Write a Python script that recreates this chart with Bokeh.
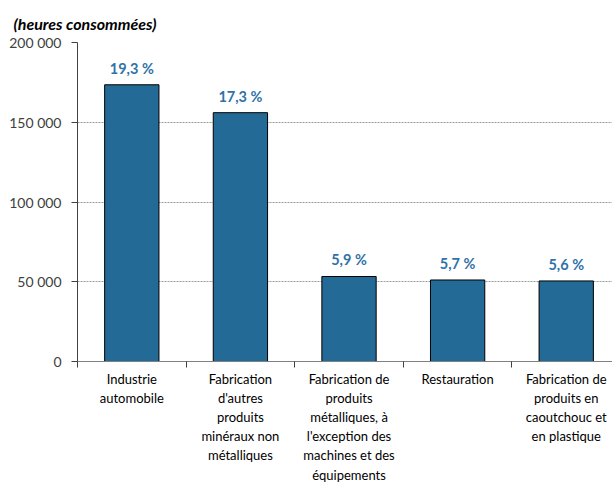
from bokeh.plotting import figure
from bokeh.models import FixedTicker, Range1d, CustomJSTickFormatter, ColumnDataSource
from bokeh.core.properties import value
from bokeh.embed import file_html
from bokeh.resources import INLINE

titre = "(heures consommées)"
categories = [
    "Industrie\nautomobile",
    "Fabrication\nd'autres\nproduits\nminéraux non\nmétalliques",
    "Fabrication de\nproduits\nmétalliques, à\nl'exception des\nmachines et des\néquipements",
    "Restauration",
    "Fabrication de\nproduits en\ncaoutchouc et\nen plastique",
]
heures = [173500, 156000, 53300, 51100, 50500]
parts = [19.3, 17.3, 5.9, 5.7, 5.6]
y_ticks = [0, 50000, 100000, 150000, 200000]

FONT = "Lato"
n = len(categories)
centers = [i + 0.5 for i in range(n)]
labels = [f"{v:.1f}".replace(".", ",") + " %" for v in parts]

src = ColumnDataSource(dict(x=centers, top=heures, lab=labels))

p = figure(width=612, height=485, output_backend="svg", toolbar_location=None,
           x_range=Range1d(0, 4.926), y_range=Range1d(0, 200000),
           min_border_left=77, min_border_right=0, min_border_top=42,
           min_border_bottom=20)
p.outline_line_color = None
p.background_fill_color = "white"

p.title.text = titre
p.title.text_font = FONT
p.title.text_font_style = "bold italic"
p.title.text_font_size = "16px"
p.title.text_line_height = 0.7
p.title.text_color = "#000000"
p.title.align = "left"
p.title.offset = -64
p.title.standoff = 20

p.vbar(x="x", top="top", width=0.5, source=src, fill_color="#236a97",
       line_color="#000000", line_width=1)
p.text(x="x", y="top", text="lab", source=src, text_align="center",
       text_baseline="bottom", y_offset=-8, text_font=value(FONT),
       text_font_style="bold", text_font_size="14.5px", text_color="#2f72a8")

# y axis
p.yaxis.ticker = FixedTicker(ticks=y_ticks)
p.yaxis.formatter = CustomJSTickFormatter(
    code="return tick.toString().replace(/\\B(?=(\\d{3})+(?!\\d))/g, ' ');")
p.yaxis.major_label_text_font = FONT
p.yaxis.major_label_text_font_size = "14px"
p.yaxis.major_label_text_color = "#404040"
p.yaxis.axis_line_color = "#404040"
p.yaxis.major_tick_line_color = "#404040"
p.yaxis.major_tick_out = 6
p.yaxis.major_tick_in = 0
p.yaxis.minor_tick_line_color = None
p.yaxis.major_label_standoff = 10

# x axis
p.xaxis.ticker = FixedTicker(ticks=centers, minor_ticks=list(range(n + 1)))
p.xaxis.major_label_overrides = {c: lab for c, lab in zip(centers, categories)}
p.xaxis.major_tick_line_color = None
p.xaxis.major_tick_out = 0
p.xaxis.major_tick_in = 0
p.xaxis.minor_tick_line_color = "#404040"
p.xaxis.minor_tick_out = 6
p.xaxis.minor_tick_in = 0
p.xaxis.axis_line_color = "#808080"
p.xaxis.major_label_text_font = FONT
p.xaxis.major_label_text_font_size = "13px"
p.xaxis.major_label_text_color = "#000000"
p.xaxis.major_label_standoff = 3

p.xgrid.grid_line_color = None
p.ygrid.ticker = FixedTicker(ticks=y_ticks)
p.ygrid.grid_line_color = "#9a9a9a"
p.ygrid.grid_line_dash = "2 1"
p.ygrid.grid_line_width = 1

open("out.html", "w").write(file_html(p, INLINE))
